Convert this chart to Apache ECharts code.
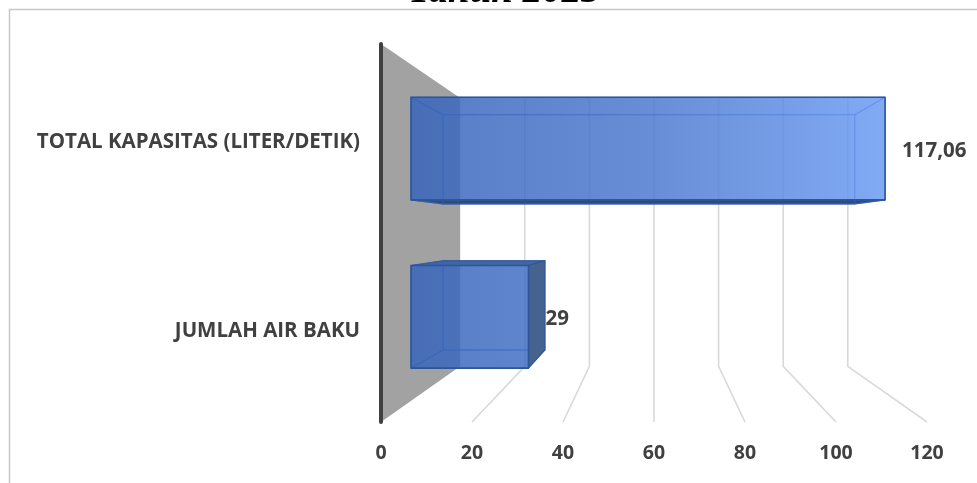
<!DOCTYPE html>
<html><head><meta charset="utf-8">
<style>html,body{margin:0;padding:0;background:#fff}#c{width:977px;height:483px}</style>
<script src="https://cdn.jsdelivr.net/npm/echarts@6/dist/echarts.min.js"></script>
</head><body><div id="c"></div>
<script>
const titleText = 'Tahun 2023';
const categories = ['TOTAL KAPASITAS (LITER/DETIK)', 'JUMLAH AIR BAKU'];
const values = [117.06, 29];
const valueTicks = [0, 20, 40, 60, 80, 100, 120];

// Depth of the pseudo-3D box (1 = front of the floor, smaller = further back)
const WALL_DEPTH = 0.71, BAR_FRONT = 0.89, BAR_BACK = 0.773, BAR_BAND = 0.305;
const VANISH_Y_FROM_TOP = 186;
const FONT = '"Open Sans", Lato, sans-serif';
const INK = '#404040';

function projector(api, params) {
  const cs = params.coordSys;
  const vx = cs.x + cs.width / 2, vy = cs.y + VANISH_Y_FROM_TOP;
  return (x, y, s) => [vx + (x - vx) * s, vy + (y - vy) * s];
}

function renderFrame(params, api) {
  const v = api.value(0), cs = params.coordSys, p = projector(api, params);
  const x = api.coord([v, 0])[0];
  const top = cs.y, floor = cs.y + cs.height;
  if (v === valueTicks[0]) {
    return { type: 'polygon', shape: { points: [[x, top], p(x, top, WALL_DEPTH), p(x, floor, WALL_DEPTH), [x, floor]] },
      style: { fill: '#a2a2a2' } };
  }
  return { type: 'polyline', shape: { points: [[x, floor], p(x, floor, WALL_DEPTH), p(x, top, WALL_DEPTH)] },
    style: { fill: 'none', stroke: '#d9d9d9', lineWidth: 1.6 } };
}

function renderBar(params, api) {
  const v = api.value(0), cat = api.value(1), p = projector(api, params);
  const x0 = api.coord([0, cat])[0], x1 = api.coord([v, cat])[0], yc = api.coord([v, cat])[1];
  const half = api.size([0, 1])[1] * BAR_BAND;
  const yT = yc - half, yB = yc + half;
  const fTL = p(x0, yT, BAR_FRONT), fTR = p(x1, yT, BAR_FRONT), fBR = p(x1, yB, BAR_FRONT), fBL = p(x0, yB, BAR_FRONT);
  const bTL = p(x0, yT, BAR_BACK), bTR = p(x1, yT, BAR_BACK), bBR = p(x1, yB, BAR_BACK), bBL = p(x0, yB, BAR_BACK);
  const gx0 = p(api.coord([0, 0])[0], 0, BAR_FRONT)[0];
  const gx1 = p(api.coord([Math.max(...values), 0])[0], 0, BAR_FRONT)[0];
  const fill = { type: 'linear', x: gx0, y: 0, x2: gx1, y2: 0, global: true,
    colorStops: [{ offset: 0, color: 'rgba(54,100,186,0.83)' }, { offset: 0.5, color: 'rgba(74,120,206,0.83)' }, { offset: 1, color: 'rgba(106,155,244,0.83)' }] };
  const edge = '#2f5597', inner = 'rgba(52,100,190,0.6)';
  const face = (pts, outside, dark) => ({ type: 'polygon', shape: { points: pts },
    style: { fill: outside ? dark : 'rgba(40,80,160,0.05)', stroke: outside ? edge : inner, lineWidth: 1.1, lineJoin: 'round' } });
  const mid = p(x1, yc, BAR_FRONT);
  return { type: 'group', children: [
    face([bTL, bTR, bBR, bBL], false),
    face([fTL, fTR, bTR, bTL], bTL[1] < fTL[1], '#4166a8'),
    face([fBL, fBR, bBR, bBL], bBL[1] > fBL[1], '#2f4a7e'),
    face([fTL, bTL, bBL, fBL], false),
    face([fTR, bTR, bBR, fBR], bTR[0] > fTR[0], '#46638f'),
    { type: 'polygon', shape: { points: [fTL, fTR, fBR, fBL] }, style: { fill, stroke: edge, lineWidth: 1.6, lineJoin: 'round' } },
    { type: 'text', x: mid[0] + 17, y: mid[1] + 2.5,
      style: { text: String(v).replace('.', ','), fill: INK, font: 'bold 20.5px ' + FONT, align: 'left', verticalAlign: 'middle' } }
  ] };
}

const chart = echarts.init(document.getElementById('c'), null, { renderer: 'canvas' });
chart.setOption({
  animation: false,
  backgroundColor: '#fff',
  graphic: [
    { type: 'polyline', silent: true, z: -1, shape: { points: [[9.5, 483], [9.5, 9.5], [977, 9.5]] },
      style: { fill: 'none', stroke: '#c8c8c8', lineWidth: 1.5 } },
    { type: 'text', silent: true, x: 504.5, y: 11, z: 20,
      style: { text: titleText, fill: '#000', font: 'italic bold 39px "Liberation Serif", serif', align: 'center', verticalAlign: 'bottom' } }
  ],
  grid: { left: 381, right: 50, top: 44, bottom: 61 },
  xAxis: { type: 'value', min: 0, max: 120, interval: 20,
    axisLine: { show: false }, axisTick: { show: false }, splitLine: { show: false },
    axisLabel: { margin: 21, color: INK, fontFamily: FONT, fontWeight: 'bold', fontSize: 19.5, hideOverlap: false, showMinLabel: true, showMaxLabel: true } },
  yAxis: { type: 'category', inverse: true, data: categories, z: 10,
    axisTick: { show: false }, splitLine: { show: false },
    axisLine: { show: true, lineStyle: { color: '#404040', width: 4, cap: 'round' } },
    axisLabel: { margin: 21, color: INK, fontFamily: FONT, fontWeight: 'bold', fontSize: 20.5, verticalAlign: 'top', lineHeight: 8 } },
  series: [
    { type: 'custom', name: 'frame', silent: true, z: 1, renderItem: renderFrame,
      encode: { x: 0 }, data: valueTicks.map(v => [v, 0]) },
    { type: 'custom', name: 'bars', silent: true, z: 3, renderItem: renderBar,
      encode: { x: 0, y: 1 }, data: values.map((v, i) => [v, i]) }
  ]
});
</script></body></html>
